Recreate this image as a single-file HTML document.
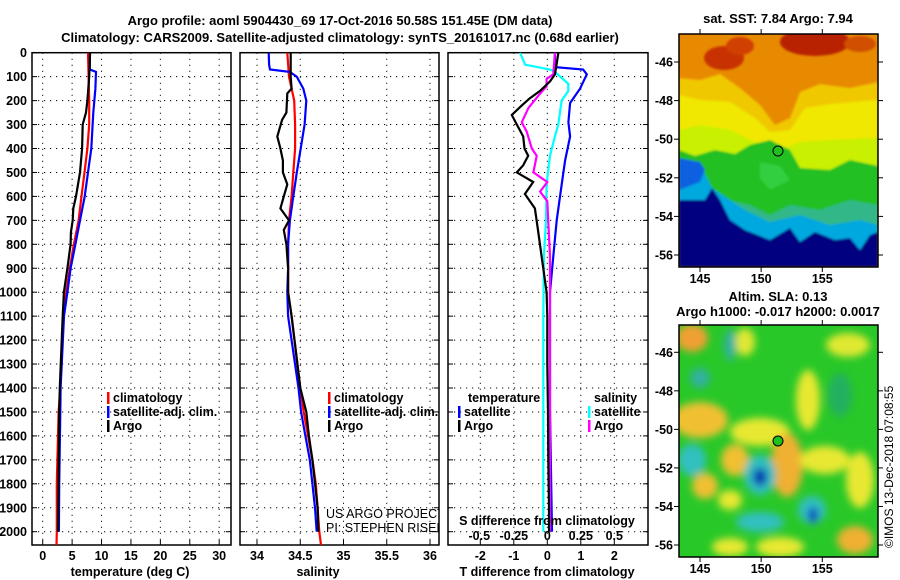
<!DOCTYPE html>
<html><head><meta charset="utf-8">
<style>
body{margin:0;background:#fff;}
svg{display:block;font-family:"Liberation Sans",Arial,sans-serif;}
.b{font-weight:bold;font-size:13px;}
.t{font-weight:bold;font-size:12.5px;}
</style></head>
<body>
<svg id="fig" width="900" height="580" viewBox="0 0 900 580">
<defs>
<clipPath id="cp1"><rect x="32" y="52.7" width="199" height="492.3"/></clipPath>
<clipPath id="cp2"><rect x="240" y="52.7" width="199" height="492.3"/></clipPath>
<clipPath id="cp3"><rect x="448" y="52.7" width="200" height="492.3"/></clipPath>
<clipPath id="cm1"><rect x="679" y="34" width="199" height="233"/></clipPath>
<clipPath id="cm2"><rect x="679" y="325" width="199" height="232"/></clipPath>
<filter id="bl" x="-10%" y="-10%" width="120%" height="120%"><feGaussianBlur stdDeviation="4"/></filter>
<filter id="bl2"><feGaussianBlur stdDeviation="1"/></filter>
</defs>
<text class="b" x="340" y="25" text-anchor="middle">Argo profile: aoml 5904430_69 17-Oct-2016 50.58S 151.45E (DM data)</text>
<text class="b" x="340" y="42" text-anchor="middle">Climatology: CARS2009. Satellite-adjusted climatology: synTS_20161017.nc (0.68d earlier)</text>
<g id="panels"></g>

<!-- Top map: SST -->
<text class="b" x="778" y="23" text-anchor="middle">sat. SST: 7.84 Argo: 7.94</text>
<g clip-path="url(#cm1)">
<rect x="679" y="34" width="199" height="233" fill="#e88a00"/>
<g filter="url(#bl2)">
<path d="M679 78 L700 80 L720 74 L740 88 L760 105 L775 125 L790 118 L800 92 L820 84 L850 88 L878 82 L878 267 L679 267Z" fill="#f0c800"/>
<path d="M679 95 L700 100 L730 102 L755 118 L770 132 L790 130 L805 108 L830 104 L878 100 L878 267 L679 267Z" fill="#f0e800"/>
<path d="M679 130 L700 125 L730 130 L750 140 L780 150 L800 142 L830 140 L878 138 L878 267 L679 267Z" fill="#c8f000"/>
<path d="M679 150 L695 156 L715 150 L735 154 L750 145 L770 140 L790 150 L800 168 L830 170 L850 160 L878 166 L878 267 L679 267Z" fill="#20c020"/>
<path d="M679 195 L700 192 L720 198 L750 205 L770 215 L790 205 L820 210 L850 200 L878 205 L878 267 L679 267Z" fill="#30b888"/>
<path d="M679 158 L700 164 L712 188 L730 200 L745 210 L770 222 L800 215 L830 225 L860 220 L878 225 L878 267 L679 267Z" fill="#00a8e0"/>
<path d="M679 200 L705 200 L712 188 L720 200 L730 220 L745 230 L770 240 L790 228 L800 242 L815 232 L835 240 L850 238 L860 250 L870 235 L878 232 L878 267 L679 267Z" fill="#000080"/>
<path d="M679 158 L700 162 L705 170 L700 182 L679 190Z" fill="#1060e0"/>
<path d="M760 162 L780 166 L790 180 L770 190 L760 178Z" fill="#30d040"/>
</g>
<g filter="url(#bl2)">
<ellipse cx="724" cy="58" rx="20" ry="12" fill="#c83000"/>
<ellipse cx="815" cy="42" rx="35" ry="14" fill="#b82000"/>
<ellipse cx="740" cy="46" rx="14" ry="9" fill="#d04000"/>
<ellipse cx="860" cy="44" rx="16" ry="8" fill="#d05000"/>
</g>
</g>
<rect x="679" y="34" width="199" height="233" fill="none" stroke="#000" stroke-width="1.5"/>
<circle cx="778" cy="151" r="5" fill="#20c020" stroke="#000" stroke-width="1"/>
<g id="map1axes"></g>

<!-- Bottom map: SLA -->
<text class="b" x="778" y="301" text-anchor="middle">Altim. SLA: 0.13</text>
<text class="b" x="778" y="316" text-anchor="middle">Argo h1000: -0.017 h2000: 0.0017</text>
<g clip-path="url(#cm2)">
<rect x="679" y="325" width="199" height="232" fill="#28c828"/>
<g filter="url(#bl)">
<ellipse cx="692" cy="338" rx="16" ry="14" fill="#f0a030"/>
<ellipse cx="745" cy="342" rx="10" ry="14" fill="#e0e830"/>
<ellipse cx="730" cy="345" rx="6" ry="16" fill="#30b0a0"/>
<ellipse cx="808" cy="400" rx="12" ry="30" fill="#e8e830"/>
<ellipse cx="848" cy="345" rx="22" ry="12" fill="#e0e830"/>
<ellipse cx="700" cy="420" rx="28" ry="18" fill="#f0c030"/>
<ellipse cx="760" cy="432" rx="30" ry="14" fill="#e8e830"/>
<ellipse cx="787" cy="465" rx="16" ry="32" fill="#f0b030"/>
<ellipse cx="825" cy="460" rx="25" ry="14" fill="#e8e830"/>
<ellipse cx="735" cy="460" rx="14" ry="16" fill="#f0c030"/>
<ellipse cx="692" cy="460" rx="14" ry="16" fill="#30c0c0"/>
<ellipse cx="705" cy="486" rx="13" ry="13" fill="#f0c030"/>
<ellipse cx="760" cy="475" rx="16" ry="20" fill="#30c0c0"/>
<ellipse cx="760" cy="477" rx="7" ry="9" fill="#0030b0"/>
<ellipse cx="812" cy="510" rx="14" ry="14" fill="#30c0c0"/>
<ellipse cx="813" cy="515" rx="5" ry="8" fill="#0040c0"/>
<ellipse cx="760" cy="522" rx="24" ry="10" fill="#30c0c0"/>
<ellipse cx="730" cy="500" rx="12" ry="10" fill="#e8e830"/>
<ellipse cx="860" cy="480" rx="14" ry="28" fill="#e8e830"/>
<ellipse cx="855" cy="540" rx="18" ry="14" fill="#f0b030"/>
<ellipse cx="780" cy="547" rx="24" ry="10" fill="#e8e830"/>
<ellipse cx="730" cy="547" rx="18" ry="9" fill="#e8e830"/>
<ellipse cx="840" cy="395" rx="12" ry="22" fill="#20b060"/>
<ellipse cx="700" cy="378" rx="10" ry="10" fill="#30b0a0"/>
</g>
</g>
<rect x="679" y="325" width="199" height="232" fill="none" stroke="#000" stroke-width="1.5"/>
<circle cx="778" cy="441" r="5" fill="#20c020" stroke="#000" stroke-width="1"/>
<g id="map2axes"></g>
<text x="893" y="548" font-size="12" transform="rotate(-90 893 548)">©IMOS 13-Dec-2018 07:08:55</text>
</svg>
<script>
// ---- data ----
const depthTicks=[0,100,200,300,400,500,600,700,800,900,1000,1100,1200,1300,1400,1500,1600,1700,1800,1900,2000];
const tempTicks=[0,5,10,15,20,25,30];
const salTicks=[34,34.5,35,35.5,36];
const salTickLabels=["34","34.5","35","35.5","36"];
const dTTicks=[-2,-1,0,1,2];
const dSTickLabels=["-0.5","-0.25","0","0.25","0.5"];
const dSTickValues=[-0.5,-0.25,0,0.25,0.5];

const tArgoDepth=[0,100,200,250,300,400,500,550,600,650,700,750,800,900,1000,1100,1400,1500,2000];
const tArgo=[8.06,7.9,7.6,7.36,6.8,6.7,6.34,6.0,5.66,5.2,5.1,4.8,4.75,4.2,3.6,3.4,2.9,2.8,2.6];
const tClimDepth=[0,100,200,300,400,500,600,700,800,900,1000,1100,1400,1500,1800,2000,2055];
const tClim=[7.7,7.8,7.9,7.9,7.6,7.1,6.6,6.1,5.3,4.6,4.0,3.5,3.0,2.7,2.4,2.4,2.35];
const tSatDepth=[0,70,80,150,250,400,500,600,700,800,900,1000,1100,1400,1500,1800,2000];
const tSat=[8.0,8.0,9.06,8.95,8.6,8.26,7.7,7.14,6.34,5.55,4.75,4.2,3.62,3.05,3.0,2.8,2.75];

const sArgoDepth=[0,100,150,170,250,280,350,400,450,500,550,600,650,700,740,800,900,1000,1100,1400,1500,1600,1700,1800,1900,2000];
const sArgo=[34.39,34.39,34.40,34.35,34.34,34.29,34.235,34.27,34.30,34.30,34.35,34.31,34.27,34.37,34.31,34.34,34.36,34.36,34.40,34.50,34.57,34.60,34.64,34.67,34.70,34.71];
const sClimDepth=[0,100,150,200,300,400,500,600,700,800,1000,1100,1400,1500,1700,1800,1900,2000,2055];
const sClim=[34.35,34.37,34.40,34.43,34.44,34.44,34.42,34.40,34.37,34.36,34.36,34.40,34.50,34.54,34.64,34.68,34.70,34.72,34.74];
const sSatDepth=[0,50,70,80,100,150,200,300,400,500,600,700,800,900,1000,1100,1400,1500,1600,1700,1800,1900,2000];
const sSat=[34.135,34.14,34.15,34.38,34.46,34.535,34.57,34.55,34.505,34.46,34.42,34.38,34.36,34.36,34.35,34.36,34.48,34.51,34.56,34.61,34.64,34.67,34.69];

const dTArgoDepth=[0,90,120,160,190,220,260,300,350,400,430,470,500,540,590,650,750,850,1000,1100,1300,1500,1700,1900,2000];
const dTArgo=[0.33,0.23,0.08,-0.22,-0.52,-0.76,-1.06,-0.91,-0.72,-0.68,-0.57,-0.72,-0.91,-0.42,-0.67,-0.37,-0.27,-0.17,-0.02,0.0,0.0,0.02,0.03,0.05,0.05];
const dTSatDepth=[0,60,70,90,150,210,290,350,450,550,700,850,1000,1100,1500,2000];
const dTSat=[0.23,0.23,1.07,1.18,0.98,0.68,0.63,0.68,0.53,0.43,0.28,0.18,0.08,0.08,0.08,0.14];
const dSArgoDepth=[0,90,110,140,180,230,290,330,400,430,500,540,580,620,700,850,1100,1500,2000];
const dSArgo=[0.057,0.045,-0.005,-0.005,-0.067,-0.14,-0.19,-0.154,-0.116,-0.079,-0.104,0.0,-0.054,0.0,0.007,0.02,0.02,0.02,0.02];
const dSSatDepth=[0,50,70,80,130,160,200,300,350,430,550,700,850,1100,1500,2000];
const dSSat=[-0.204,-0.166,0.02,0.057,0.157,0.157,0.107,0.082,0.057,0.02,-0.005,-0.01,-0.025,-0.03,-0.03,-0.03];

const latTicks=[-46,-48,-50,-52,-54,-56];
const lonTicks=[145,150,155];

// ---- scales ----
const NS='http://www.w3.org/2000/svg';
const TOP=52.7, BOT=545;
const yD=d=>52.7+d*0.2395;
const xT=t=>42.7+t*5.883;
const xS=s=>257+(s-34)*86.5;
const xDT=v=>547.3+v*33.5;
const xDS=v=>547.3+v*134;
const lonX=l=>700+(l-145)*12.23;
function mk(tag,attrs,parent){const e=document.createElementNS(NS,tag);for(const k in attrs)e.setAttribute(k,attrs[k]);parent.appendChild(e);return e;}
const P=document.getElementById('panels');

const panels=[
 {x0:32,x1:231,name:'temperature-panel',clip:'cp1',xs:xT,ticks:tempTicks,labels:tempTicks.map(String),xtitle:'temperature (deg C)',tx:130},
 {x0:240,x1:439,name:'salinity-panel',clip:'cp2',xs:xS,ticks:salTicks,labels:salTickLabels,xtitle:'salinity',tx:318},
 {x0:448,x1:648,name:'difference-panel',clip:'cp3',xs:xDT,ticks:dTTicks,labels:dTTicks.map(String),xtitle:'T difference from climatology',tx:547}
];
panels.forEach((p,i)=>{
 const g=mk('g',{},P);
 
 
 p.ticks.forEach(t=>{const x=p.xs(t);const l=mk('line',{x1:x,x2:x,y1:TOP,y2:BOT,stroke:'#000','stroke-width':1,'stroke-dasharray':'1.2,4.8'},g);
  });
 depthTicks.forEach(d=>{if(d===0)return;const y=yD(d);const l=mk('line',{x1:p.x0,x2:p.x1,y1:y,y2:y,stroke:'#000','stroke-width':1,'stroke-dasharray':'1.2,4.8'},g);
  });
 const fr=mk('rect',{x:p.x0,y:TOP,width:p.x1-p.x0,height:BOT-TOP,fill:'none',stroke:'#000','stroke-width':1.5},g);
 
 depthTicks.forEach(d=>{
  const y=yD(d);
  mk('line',{x1:p.x0,x2:p.x0+5,y1:y,y2:y,stroke:'#000'},g);
  mk('line',{x1:p.x1,x2:p.x1-5,y1:y,y2:y,stroke:'#000'},g);
  if(i===0){const t=mk('text',{x:27,y:y+4.5,'text-anchor':'end',class:'t'},g);t.textContent=d;
   }
 });
 p.ticks.forEach((t,j)=>{const x=p.xs(t);
  mk('line',{x1:x,x2:x,y1:BOT,y2:BOT-5,stroke:'#000'},g);
  const tx=mk('text',{x:x,y:560,'text-anchor':'middle',class:'t'},g);tx.textContent=p.labels[j];
  });
 const tt=mk('text',{x:p.tx,y:576,'text-anchor':'middle',class:'t'},g);tt.textContent=p.xtitle;
 
});
function line(ds,vs,sc,color,clip,name){
 const pts=ds.map((d,k)=>sc(vs[k]).toFixed(1)+','+yD(d).toFixed(1)).join(' ');
 const pl=mk('polyline',{points:pts,fill:'none',stroke:color,'stroke-width':2.2,'clip-path':'url(#'+clip+')'},P);
 
 
}
line(tClimDepth,tClim,xT,'#f00','cp1','temp-climatology-line');
line(tSatDepth,tSat,xT,'#00f','cp1','temp-satellite-line');
line(tArgoDepth,tArgo,xT,'#000','cp1','temp-argo-line');
line(sClimDepth,sClim,xS,'#f00','cp2','sal-climatology-line');
line(sSatDepth,sSat,xS,'#00f','cp2','sal-satellite-line');
line(sArgoDepth,sArgo,xS,'#000','cp2','sal-argo-line');
line(dSSatDepth,dSSat,xDS,'#00ffff','cp3','sal-diff-satellite-line');
line(dTSatDepth,dTSat,xDT,'#00f','cp3','temp-diff-satellite-line');
line(dSArgoDepth,dSArgo,xDS,'#f0f','cp3','sal-diff-argo-line');
line(dTArgoDepth,dTArgo,xDT,'#000','cp3','temp-diff-argo-line');

function legend(x,y,color,text,name){
 const g=mk('g',{},P);
 
 
 if(color)mk('rect',{x:x,y:y-10,width:2.5,height:12,fill:color},g);
 const t=mk('text',{x:x+6,y:y,class:'t'},g);t.textContent=text;
}
legend(107,402,'#f00','climatology','legend-temp-climatology');
legend(107,416,'#00f','satellite-adj. clim.','legend-temp-satellite');
legend(107,430,'#000','Argo','legend-temp-argo');
legend(328,402,'#f00','climatology','legend-sal-climatology');
legend(328,416,'#00f','satellite-adj. clim.','legend-sal-satellite');
legend(328,430,'#000','Argo','legend-sal-argo');
legend(462,402,null,'temperature','legend-temp-heading');
legend(458,416,'#00f','satellite','legend-diff-temp-satellite');
legend(458,430,'#000','Argo','legend-diff-temp-argo');
legend(588,402,null,'salinity','legend-sal-heading');
legend(588,416,'#00ffff','satellite','legend-diff-sal-satellite');
legend(588,430,'#f0f','Argo','legend-diff-sal-argo');
{const t=mk('text',{x:547,y:525,'text-anchor':'middle',class:'t'},P);t.textContent='S difference from climatology';
 
 dSTickValues.forEach((v,j)=>{const l=mk('text',{x:xDS(v)+(j===0?-1:0),y:540,'text-anchor':'middle',class:'t'},P);l.textContent=dSTickLabels[j];
  });
 const g=mk('g',{'clip-path':'url(#cp2)'},P);
 
 const a=mk('text',{x:326,y:518,'font-size':'12.5'},g);a.textContent='US ARGO PROJECT';
 const b=mk('text',{x:326,y:532,'font-size':'12.5'},g);b.textContent='PI: STEPHEN RISER';
}
function mapAxes(id,y0,y1,latY46,latY56){
 const g=document.getElementById(id);
 
 
 const k=(latY56-latY46)/10;
 latTicks.forEach(l=>{const y=latY46+(-46-l)*k;
  mk('line',{x1:679,x2:674,y1:y,y2:y,stroke:'#000'},g);
  mk('line',{x1:878,x2:883,y1:y,y2:y,stroke:'#000'},g);
  const t=mk('text',{x:673,y:y+4.5,'text-anchor':'end',class:'t'},g);t.textContent=l;
  });
 lonTicks.forEach(l=>{const x=lonX(l);
  mk('line',{x1:x,x2:x,y1:y0,y2:y0-5,stroke:'#000'},g);
  mk('line',{x1:x,x2:x,y1:y1,y2:y1+5,stroke:'#000'},g);
  const t=mk('text',{x:x,y:y1+16,'text-anchor':'middle',class:'t'},g);t.textContent=l;
  });
}
mapAxes('map1axes',34,267,62,255);
mapAxes('map2axes',325,557,352.3,545);
</script>
</body></html>
